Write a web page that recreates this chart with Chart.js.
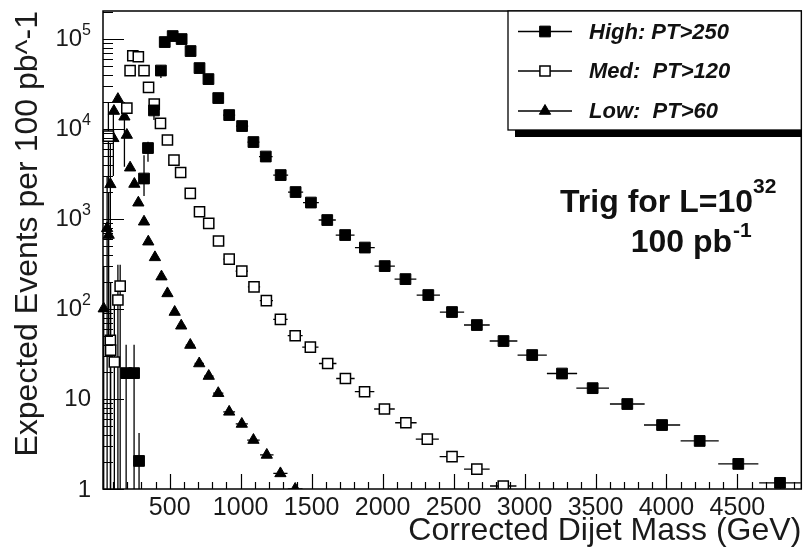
<!DOCTYPE html>
<html>
<head>
<meta charset="UTF-8">
<title>Corrected Dijet Mass</title>
<script src="https://cdn.jsdelivr.net/npm/chart.js"></script>
<style>
    body { margin: 0; background: #fff; }
    #wrap { width: 810px; height: 552px; }
</style>
</head>
<body>
<div id="wrap"><canvas id="massChart" width="810" height="552"></canvas></div>
<script>
    // values: dijet mass (GeV) and expected events per 100 pb^-1
    const highMass = [193, 249, 284, 319, 347, 389, 438, 465, 521, 584, 647, 710, 773, 842, 919, 1010, 1090, 1177,
        1282, 1387, 1495, 1610, 1736, 1875, 2015, 2161, 2322, 2489, 2664, 2852, 3054, 3264, 3480, 3724, 3969, 4234, 4506, 4800];
    const highEvents = [19.4, 19.4, 2.05, 2820, 6150, 16100, 44700, 92600, 108000, 100000, 73600, 47600, 35900, 22100,
        14300, 10800, 7170, 4950, 3080, 1995, 1525, 975, 664, 482, 300, 215, 143, 92.6, 66.4, 44.1, 30.8, 19.2, 13.2,
        8.8, 5.14, 3.42, 1.9, 1.17];
    // vertical error bars [low, high], only where they show outside the marker
    const highErr = [[0.1, 40], [0.1, 40], [0.1, 4.2], [1800, 5100], [4335, 7230], [12600, 21000], [36900, 51000]];

    const medMass = [68, 82, 84, 110, 135, 151, 198, 221, 240, 279, 319, 351, 391, 435, 484, 530, 577, 645, 710, 775,
        844, 919, 1008, 1094, 1181, 1280, 1384, 1491, 1613, 1738, 1873, 2013, 2164, 2315, 2489, 2664, 2850];
    const medEvents = [8360, 45, 35, 25.8, 126, 180, 17100, 44500, 65200, 63600, 44500, 29100, 18950, 11570, 7550,
        4525, 3290, 1930, 1205, 896, 570, 359, 264, 176, 124, 76.9, 50.5, 37.8, 24.8, 16.9, 12.05, 7.74, 5.45, 3.59,
        2.29, 1.66, 1.08];
    const medErr = [[2500, 20000], [0.1, 200], [0.1, 200], [0.1, 120], [0.1, 310], [0.1, 310]];

    const lowMass = [35, 59, 70, 82, 103, 107, 135, 181, 198, 221, 251, 279, 319, 349, 396, 442, 484, 535, 581, 645,
        708, 775, 842, 919, 1008, 1090, 1184, 1280, 1384];
    const lowEvents = [101, 788, 664, 2430, 7890, 15850, 21500, 13700, 8580, 3720, 2450, 1518, 933, 560, 375, 229,
        149, 92.6, 65.2, 39.8, 24.8, 18, 11.6, 7.2, 5.28, 3.5, 2.39, 1.49, 1.0];
    const lowErr = [[0.1, 300], [0.1, 3000], [50, 2000], [600, 7000], [3000, 15000], null, null, [3800, 20000]];

    const seriesNames = ['High: PT>250', 'Med:  PT>120', 'Low:  PT>60'];
    const xTicks = [500, 1000, 1500, 2000, 2500, 3000, 3500, 4000, 4500];
    const yDecades = [0, 1, 2, 3, 4, 5];

    const FONT = '"Liberation Sans", Arial, Helvetica, sans-serif';

    function toPoints(xs, ys) {
        return xs.map((m, i) => ({x: m, y: ys[i]}));
    }

    // bin-width horizontal bars + vertical error bars, drawn under the markers
    const errorBars = {
        id: 'errorBars',
        beforeDatasetsDraw(chart) {
            const {ctx, chartArea: a, scales: {x, y}} = chart;
            ctx.save();
            ctx.beginPath();
            ctx.rect(a.left, a.top, a.right - a.left, a.bottom - a.top);
            ctx.clip();
            ctx.strokeStyle = '#000';
            ctx.lineWidth = 1.3;
            chart.data.datasets.forEach(ds => {
                const pts = ds.data;
                pts.forEach((p, i) => {
                    const prev = i > 0 ? pts[i - 1].x : null;
                    const next = i < pts.length - 1 ? pts[i + 1].x : null;
                    let half;
                    if (prev !== null && next !== null) half = (next - prev) / 4;
                    else if (next !== null) half = (next - p.x) / 2;
                    else half = (p.x - prev) / 2;
                    half = Math.abs(half);
                    const px = x.getPixelForValue(p.x);
                    const py = y.getPixelForValue(p.y);
                    ctx.beginPath();
                    ctx.moveTo(x.getPixelForValue(p.x - half), py);
                    ctx.lineTo(x.getPixelForValue(p.x + half), py);
                    const e = ds.yErr[i];
                    if (e) {
                        ctx.moveTo(px, Math.min(y.getPixelForValue(e[0]), a.bottom + 5));
                        ctx.lineTo(px, y.getPixelForValue(e[1]));
                    }
                    ctx.stroke();
                });
            });
            ctx.restore();
        }
    };

    function drawMarker(ctx, ds, x, y) {
        ctx.save();
        ctx.fillStyle = ds.backgroundColor;
        ctx.strokeStyle = ds.borderColor;
        ctx.lineWidth = ds.borderWidth;
        Chart.helpers.drawPoint(ctx, {
            pointStyle: ds.pointStyle, radius: ds.pointRadius, rotation: 0, borderWidth: ds.borderWidth
        }, x, y);
        ctx.restore();
    }

    // frame, inward ticks, y labels with exponents, legend box and annotation
    const decorations = {
        id: 'decorations',
        afterDraw(chart) {
            const {ctx, chartArea: a, scales: {x, y}} = chart;
            ctx.save();
            ctx.strokeStyle = '#000';
            ctx.fillStyle = '#1a1a1a';

            // ticks on x
            ctx.lineWidth = 1.2;
            ctx.beginPath();
            for (let v = 100; v < 4950; v += 100) {
                const px = Math.round(x.getPixelForValue(v)) + 0.5;
                const len = v % 500 === 0 ? 15 : 7;
                ctx.moveTo(px, a.bottom);
                ctx.lineTo(px, a.bottom - len);
            }
            // ticks on y
            yDecades.forEach(p => {
                for (let k = 1; k <= 9; k++) {
                    const v = k * Math.pow(10, p);
                    if (v > y.max) break;
                    const py = Math.round(y.getPixelForValue(v)) + 0.5;
                    ctx.moveTo(a.left, py);
                    ctx.lineTo(a.left + (k === 1 ? 21 : 10), py);
                }
            });
            ctx.stroke();

            // frame
            ctx.lineWidth = 1.5;
            ctx.strokeRect(a.left, a.top, a.right - a.left, a.bottom - a.top);

            // y labels
            ctx.textBaseline = 'middle';
            ctx.textAlign = 'right';
            yDecades.forEach(p => {
                const py = y.getPixelForValue(Math.pow(10, p));
                const labelRight = 91;
                if (p < 2) {
                    ctx.font = '24px ' + FONT;
                    ctx.fillText(p === 0 ? '1' : '10', labelRight, py + (p === 0 ? 1 : 0));
                } else {
                    ctx.font = '16px ' + FONT;
                    const sup = String(p);
                    const w = ctx.measureText(sup).width;
                    ctx.fillText(sup, labelRight, py - 8);
                    ctx.font = '24px ' + FONT;
                    ctx.fillText('10', labelRight - w, py);
                }
            });

            // legend box with shadow below
            const bx = 508, by = a.top, bw = a.right - 508, bh = 119;
            ctx.fillStyle = '#000';
            ctx.fillRect(bx + 7, by + 7, bw - 7, bh);
            ctx.fillStyle = '#fff';
            ctx.fillRect(bx, by, bw, bh);
            ctx.lineWidth = 1.3;
            ctx.strokeRect(bx, by, bw, bh);
            const rows = [31.5, 71, 111];
            chart.data.datasets.forEach((ds, i) => {
                const ry = rows[i];
                ctx.beginPath();
                ctx.moveTo(518, ry);
                ctx.lineTo(572, ry);
                ctx.lineWidth = 1.3;
                ctx.strokeStyle = '#000';
                ctx.stroke();
                drawMarker(ctx, ds, 545, ry);
                ctx.fillStyle = '#111';
                ctx.font = 'italic bold 22px ' + FONT;
                ctx.textAlign = 'left';
                ctx.textBaseline = 'middle';
                ctx.fillText(ds.label, 589, ry + 1);
            });

            // luminosity note
            ctx.fillStyle = '#111';
            ctx.textBaseline = 'alphabetic';
            ctx.textAlign = 'right';
            ctx.font = 'bold 32px ' + FONT;
            ctx.fillText('Trig for L=10', 753, 212);
            ctx.fillText('100 pb', 732, 252);
            ctx.textAlign = 'left';
            ctx.font = 'bold 21px ' + FONT;
            ctx.fillText('32', 753, 193);
            ctx.fillText('-1', 733, 237);
            ctx.restore();
        }
    };

    function makeSet(label, xs, ys, errs, style, fill, radius) {
        return {
            label: label,
            data: toPoints(xs, ys),
            yErr: xs.map((_, i) => errs[i] || null),
            pointStyle: style,
            pointRadius: radius,
            pointHoverRadius: radius,
            backgroundColor: fill,
            borderColor: '#000',
            borderWidth: fill === '#fff' ? 1.5 : 1,
            showLine: false,
            clip: {left: 6, top: 0, right: 0, bottom: 0}
        };
    }

    window.onload = function () {
        new Chart(document.getElementById('massChart'), {
            type: 'scatter',
            data: {
                datasets: [
                    makeSet(seriesNames[0], highMass, highEvents, highErr, 'rect', '#000', 7.6),
                    makeSet(seriesNames[1], medMass, medEvents, medErr, 'rect', '#fff', 7.2),
                    makeSet(seriesNames[2], lowMass, lowEvents, lowErr, 'triangle', '#000', 6.5)
                ]
            },
            options: {
                responsive: false,
                animation: false,
                layout: {padding: {top: 11, right: 3, left: 0, bottom: 0}},
                plugins: {
                    legend: {display: false},
                    tooltip: {enabled: false}
                },
                scales: {
                    x: {
                        type: 'linear',
                        min: 30,
                        max: 4950,
                        grid: {display: false, drawTicks: false, tickLength: 0},
                        border: {display: false},
                        afterBuildTicks: s => { s.ticks = xTicks.map(v => ({value: v})); },
                        afterFit: s => { s.height = 63; },
                        ticks: {
                            font: {size: 25, family: FONT},
                            color: '#1a1a1a',
                            padding: 4,
                            maxRotation: 0,
                            autoSkip: false,
                            callback: v => String(v)
                        },
                        title: {
                            display: true,
                            text: 'Corrected Dijet Mass (GeV)',
                            align: 'end',
                            color: '#1a1a1a',
                            font: {size: 32, family: FONT},
                            padding: {top: 0, bottom: 2}
                        }
                    },
                    y: {
                        type: 'logarithmic',
                        min: 1,
                        max: 205000,
                        grid: {display: false},
                        border: {display: false},
                        ticks: {display: false},
                        afterFit: s => { s.width = 103; },
                        title: {
                            display: true,
                            text: 'Expected Events per 100 pb^-1',
                            align: 'end',
                            color: '#1a1a1a',
                            font: {size: 32, family: FONT},
                            padding: {top: 9, bottom: 0}
                        }
                    }
                }
            },
            plugins: [errorBars, decorations]
        });
    };
</script>
</body>
</html>
